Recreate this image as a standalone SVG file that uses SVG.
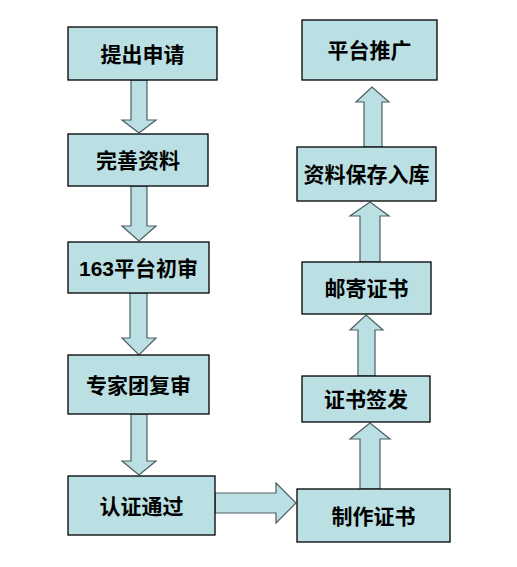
<svg xmlns="http://www.w3.org/2000/svg" width="517" height="567" viewBox="0 0 517 567">
<style>
.box{fill:#BBE0E3;stroke:#000;stroke-width:1.3}
.arr{fill:#BBE0E3;stroke:#4d5e62;stroke-width:1.2;stroke-linejoin:miter}
.t{font-family:"Noto Sans CJK SC","Noto Sans CJK TC",sans-serif;font-size:21px;font-weight:bold;fill:#000;text-anchor:middle}
.d{font-family:"Liberation Sans",Arial,sans-serif;font-weight:bold}
</style>
<rect width="517" height="567" fill="#fff"/>
<g id="connectors">
<polygon class="arr" points="131,80 147,80 147,120 156,120 139,133 122,120 131,120"/>
<polygon class="arr" points="131,186 147,186 147,226 156,226 139,241 122,226 131,226"/>
<polygon class="arr" points="130,293 147,293 147,338 156,338 139,355 122,338 130,338"/>
<polygon class="arr" points="131,414 147,414 147,461 156,461 139,475 122,461 131,461"/>
<polygon class="arr" points="215,493 276,493 276,483 296,503 276,523 276,513 215,513"/>
<polygon class="arr" points="360,489 380,489 380,439 390,439 370,423 350,439 360,439"/>
<polygon class="arr" points="358,376 375,376 375,330 383,330 366,315 350,330 358,330"/>
<polygon class="arr" points="360,262 380,262 380,216 389,216 370,202 350,216 360,216"/>
<polygon class="arr" points="364,147 382,147 382,102 389,102 372,87 356,102 364,102"/>
</g>
<g id="n1"><rect class="box" x="68" y="27" width="149" height="53"/><text class="t" x="142.5" y="61.5">提出申请</text></g>
<g id="n2"><rect class="box" x="68" y="134" width="140" height="52"/><text class="t" x="138" y="168">完善资料</text></g>
<g id="n3"><rect class="box" x="68" y="242" width="141" height="51"/><text class="t" x="138.5" y="275.5"><tspan class="d">163</tspan>平台初审</text></g>
<g id="n4"><rect class="box" x="68" y="355" width="141" height="59"/><text class="t" x="138.5" y="392.5">专家团复审</text></g>
<g id="n5"><rect class="box" x="68" y="476" width="147" height="59"/><text class="t" x="141.5" y="513.5">认证通过</text></g>
<g id="n6"><rect class="box" x="297" y="489" width="153" height="53"/><text class="t" x="373.5" y="523.5">制作证书</text></g>
<g id="n7"><rect class="box" x="302" y="376" width="128" height="46"/><text class="t" x="366" y="407">证书签发</text></g>
<g id="n8"><rect class="box" x="302" y="262" width="129" height="52"/><text class="t" x="366.5" y="296">邮寄证书</text></g>
<g id="n9"><rect class="box" x="297" y="147" width="139" height="54"/><text class="t" x="366.5" y="182">资料保存入库</text></g>
<g id="n10"><rect class="box" x="302" y="20" width="135" height="60"/><text class="t" x="369.5" y="58">平台推广</text></g>
</svg>
